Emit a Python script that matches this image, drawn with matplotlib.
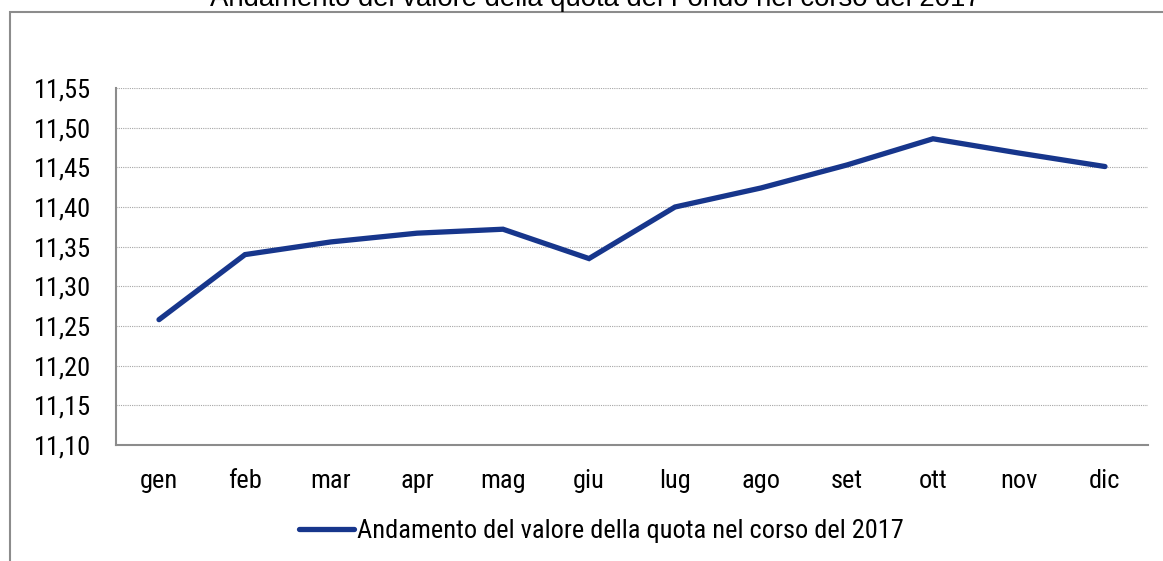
import matplotlib
matplotlib.use("Agg")
import matplotlib.pyplot as plt
from matplotlib.patches import Rectangle
from matplotlib import font_manager

months = ["gen", "feb", "mar", "apr", "mag", "giu", "lug", "ago", "set", "ott", "nov", "dic"]
values = [11.258, 11.340, 11.356, 11.367, 11.372, 11.335, 11.400, 11.424, 11.453, 11.486, 11.468, 11.451]
yticks = [11.10, 11.15, 11.20, 11.25, 11.30, 11.35, 11.40, 11.45, 11.50, 11.55]
series_name = "Andamento del valore della quota nel corso del 2017"
title = "Andamento del valore della quota del Fondo nel corso del 2017"

names = {f.name for f in font_manager.fontManager.ttflist}
fam = None
for cand in ["Liberation Sans Narrow", "Arial Narrow", "Roboto Condensed", "DejaVu Sans Condensed",
             "Open Sans Condensed", "Noto Sans Condensed"]:
    if cand in names:
        fam = cand
        break
stretch = "normal"
if fam is None:
    cond = [f for f in font_manager.fontManager.ttflist
            if "condensed" in str(f.stretch).lower() or str(f.stretch) in ("75", "62", "87")]
    if cond:
        fam = cond[0].name
        stretch = cond[0].stretch
    else:
        fam = "DejaVu Sans"
plt.rcParams['font.family'] = [fam, 'DejaVu Sans']
plt.rcParams['font.stretch'] = stretch

W, H = 1163, 561
fig = plt.figure(figsize=(W/100, H/100), dpi=100)
fig.patches.append(Rectangle((10/W, -0.1), 1.2, (H-12)/H + 0.1, transform=fig.transFigure,
                             fill=False, edgecolor="#8c8c8c", linewidth=1.5))
fig.text(595/W, (H-6)/H, title, ha="center", va="baseline", fontsize=19.8, color="#000000",
         family=["Liberation Sans", "DejaVu Sans"], stretch="normal")

ax = fig.add_axes([116/W, (H-445)/H, (1148-116)/W, (445-88)/H])
x = list(range(len(months)))
ax.plot(x, values, color="#17368C", linewidth=3.8, solid_capstyle="round", solid_joinstyle="miter",
        label=series_name)
ax.set_xlim(-0.5, len(months)-0.5)
ax.set_ylim(11.10, 11.55)
ax.set_yticks(yticks)
ax.set_yticklabels([f"{v:.2f}".replace(".", ",") for v in yticks])
ax.set_xticks(x)
ax.set_xticklabels(months)
ax.tick_params(axis="both", length=0, labelsize=19, colors="#000000")
ax.tick_params(axis="y", pad=18)
ax.tick_params(axis="x", pad=17.5)
for s in ["top", "right"]:
    ax.spines[s].set_visible(False)
for s in ["left", "bottom"]:
    ax.spines[s].set_color("#8c8c8c")
    ax.spines[s].set_linewidth(1.5)
for v in yticks[1:]:
    ax.axhline(v, color="#a6a6a6", linewidth=0.8, linestyle=(0, (1, 1)), zorder=0)

leg = fig.legend(loc="center", bbox_to_anchor=(601/W, (H-531)/H), frameon=False, fontsize=19,
                 handlelength=2.1, handletextpad=0.1)
fig.savefig("out.png", dpi=100)
